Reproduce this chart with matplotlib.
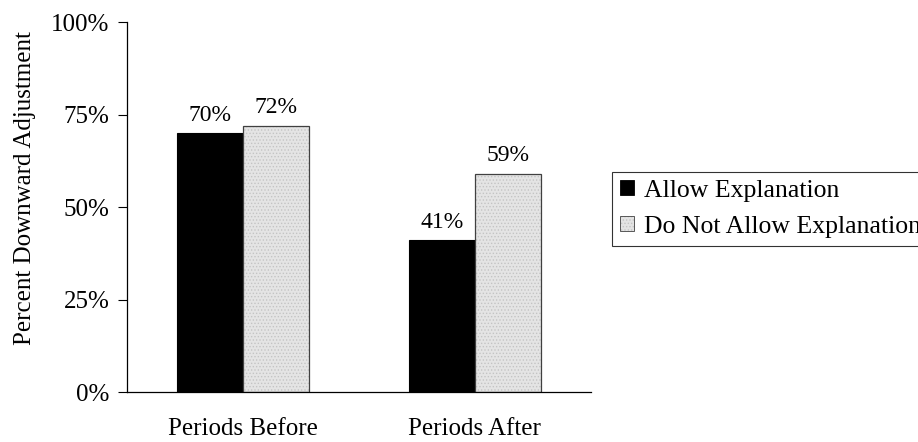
import matplotlib.pyplot as plt
from matplotlib.patches import Patch
from matplotlib.ticker import PercentFormatter
import numpy as np

plt.rcParams['font.family'] = ['Liberation Serif', 'DejaVu Serif']
plt.rcParams['hatch.linewidth'] = 0.6

periods = ['Periods Before', 'Periods After']
allow_expl = [70, 41]
no_allow_expl = [72, 59]
series_names = ['Allow Explanation', 'Do Not Allow Explanation']
y_ticks = [0, 25, 50, 75, 100]

fig = plt.figure(figsize=(9.18, 4.42), dpi=100)
ax = fig.add_axes([0.1383, 0.1131, 0.5054, 0.8371])

x = np.arange(len(periods))
w = 0.285
light = '#e4e4e4'
dots = '#c4c4c4'

b1 = ax.bar(x - w / 2, allow_expl, w, color='black', edgecolor='black', linewidth=0.8)
b2 = ax.bar(x + w / 2, no_allow_expl, w, color=light, edgecolor='#404040',
            linewidth=0.9, hatch='.....')
for p in b2:
    p._hatch_color = plt.matplotlib.colors.to_rgba(dots)

# value labels above each bar
for bars in (b1, b2):
    for rect in bars:
        h = rect.get_height()
        ax.text(rect.get_x() + rect.get_width() / 2, h + 2.0, f'{h:.0f}%',
                ha='center', va='bottom', fontsize=17)

ax.set_xlim(-0.5, 1.5)
ax.set_ylim(0, 100)
ax.set_yticks(y_ticks)
ax.yaxis.set_major_formatter(PercentFormatter(decimals=0))
ax.set_xticks(x)
ax.set_xticklabels(periods, fontsize=18)
ax.tick_params(axis='x', length=0, pad=19)
ax.tick_params(axis='y', length=6.5, width=0.8, direction='out', labelsize=18, pad=6)
ax.set_ylabel('Percent Downward Adjustment', fontsize=18)
ax.yaxis.set_label_coords(-0.197, 0.55)

for side in ('top', 'right'):
    ax.spines[side].set_visible(False)
for side in ('left', 'bottom'):
    ax.spines[side].set_linewidth(0.9)

hatched = Patch(facecolor=light, edgecolor='#404040', linewidth=0.6, hatch='.....')
hatched._hatch_color = plt.matplotlib.colors.to_rgba(dots)
handles = [Patch(facecolor='black', edgecolor='black', linewidth=0.6), hatched]
leg = fig.legend(handles, series_names, loc='upper left',
                 bbox_to_anchor=(612 / 918, 1 - 172 / 442), fontsize=18.5,
                 frameon=True, fancybox=False, edgecolor='black',
                 handlelength=0.55, handleheight=0.55, handletextpad=0.4,
                 labelspacing=0.55, borderpad=0.3, borderaxespad=0)
leg.get_frame().set_linewidth(0.8)

fig.savefig('out.png', dpi=100)
